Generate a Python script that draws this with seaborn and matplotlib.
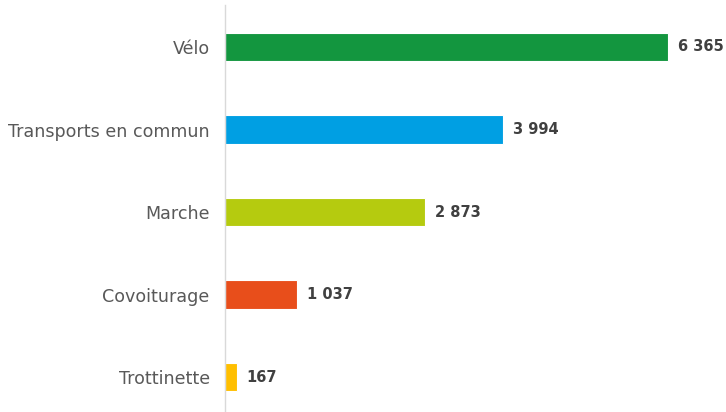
import matplotlib
matplotlib.use("Agg")
import matplotlib.pyplot as plt
import seaborn as sns
import pandas as pd

categories = ["Vélo", "Transports en commun", "Marche", "Covoiturage", "Trottinette"]
values = [6365, 3994, 2873, 1037, 167]
value_labels = ["6 365", "3 994", "2 873", "1 037", "167"]
colors = ["#13963F", "#009FE3", "#B5CB0F", "#E84E1B", "#FFBF00"]

sns.set_style("white")
plt.rcParams["font.family"] = ["DejaVu Sans"]

df = pd.DataFrame({"cat": categories, "val": values})

fig = plt.figure(figsize=(7.26, 4.12), dpi=100)
ax = fig.add_axes([225/726, 0, 501/726, 407/412])

sns.barplot(data=df, y="cat", x="val", hue="cat", palette=colors, legend=False,
            orient="h", width=0.35, saturation=1, ax=ax, edgecolor="white", linewidth=0.8)

ax.set_xlim(0, 7198)
ax.set_ylim(4.424, -0.509)
ax.set_xlabel("")
ax.set_ylabel("")
ax.set_xticks([])
for s in ["top", "right", "bottom"]:
    ax.spines[s].set_visible(False)
ax.spines["left"].set_color("#D9D9D9")
ax.spines["left"].set_linewidth(1)
ax.tick_params(axis="y", length=0, pad=11, labelsize=12.6, labelcolor="#595959")

for i, (v, lab) in enumerate(zip(values, value_labels)):
    ax.annotate(lab, (v, i), xytext=(10, 0), textcoords="offset pixels",
                va="center", ha="left", fontsize=10.5, fontweight="bold", color="#404040")

fig.savefig("out.png", dpi=100)
